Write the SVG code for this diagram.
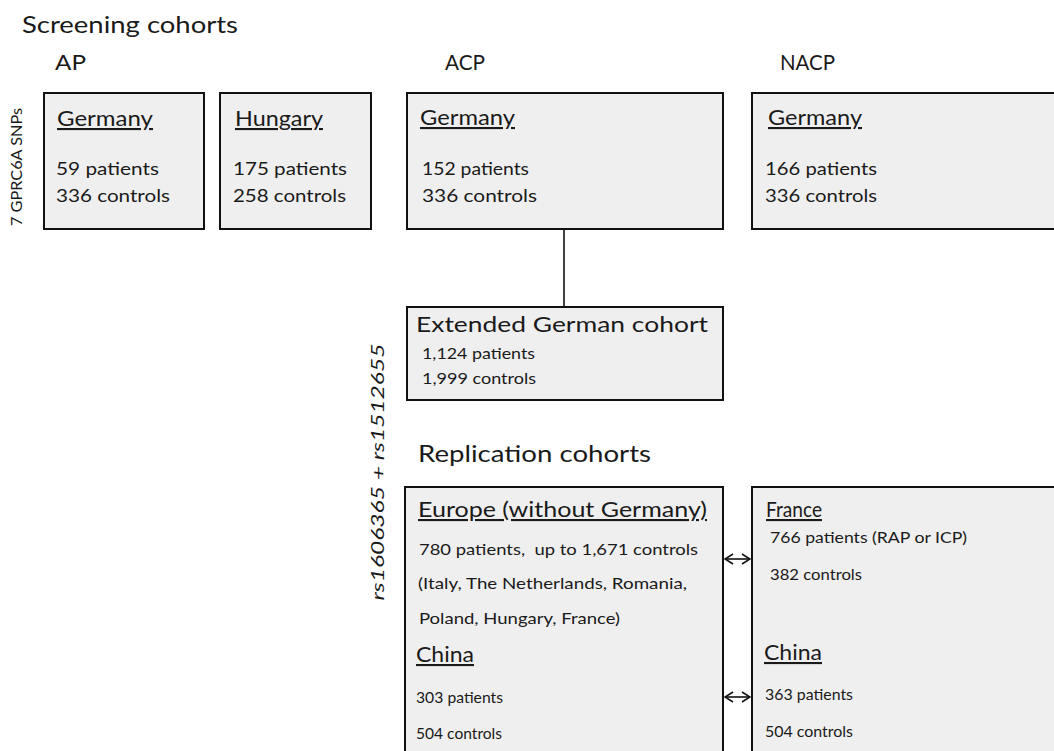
<svg xmlns="http://www.w3.org/2000/svg" width="1054" height="751" viewBox="0 0 1054 751">
<defs>
<style>
text{font-family:Lato,"Liberation Sans",sans-serif;fill:#1a1a1a}
.h1{font-size:23px}
.h2{font-size:22px}
.t{font-size:21px;text-decoration:underline}
.b{font-size:17px}
.s{font-size:16px}
.box{fill:#efefef;stroke:#111;stroke-width:2}
.conn{stroke:#111;stroke-width:1.6;fill:none}
</style>
<marker id="chev" viewBox="0 0 10 12" refX="9" refY="6" markerWidth="10" markerHeight="12" markerUnits="userSpaceOnUse" orient="auto-start-reverse">
<path d="M1,1 L9,6 L1,11" fill="none" stroke="#111" stroke-width="1.6"/>
</marker>
</defs>
<rect width="1054" height="751" fill="#fff"/>

<text class="h1" x="22" y="33" textLength="216" lengthAdjust="spacingAndGlyphs">Screening cohorts</text>
<text class="h2" x="55" y="70" textLength="31" lengthAdjust="spacingAndGlyphs">AP</text>
<text class="h2" x="445" y="70" textLength="40" lengthAdjust="spacingAndGlyphs">ACP</text>
<text class="h2" x="780" y="70" textLength="55" lengthAdjust="spacingAndGlyphs">NACP</text>
<text class="s" transform="translate(22,167) rotate(-90)" text-anchor="middle" textLength="118" lengthAdjust="spacingAndGlyphs">7 GPRC6A SNPs</text>
<text transform="translate(384,472) rotate(-90)" text-anchor="middle" style="font-size:18px;font-style:italic" textLength="257" lengthAdjust="spacingAndGlyphs">rs1606365 + rs1512655</text>

<g id="ap-germany">
<rect class="box" x="44" y="93" width="160" height="136"/>
<text class="t" x="57" y="126" textLength="96" lengthAdjust="spacingAndGlyphs">Germany</text>
<text class="b" x="56" y="175" textLength="103" lengthAdjust="spacingAndGlyphs">59 patients</text>
<text class="b" x="56" y="202" textLength="114" lengthAdjust="spacingAndGlyphs">336 controls</text>
</g>

<g id="ap-hungary">
<rect class="box" x="220" y="93" width="151" height="136"/>
<text class="t" x="235" y="126" textLength="88" lengthAdjust="spacingAndGlyphs">Hungary</text>
<text class="b" x="233" y="175" textLength="114" lengthAdjust="spacingAndGlyphs">175 patients</text>
<text class="b" x="233" y="202" textLength="113" lengthAdjust="spacingAndGlyphs">258 controls</text>
</g>

<g id="acp-germany">
<rect class="box" x="407" y="93" width="316" height="136"/>
<text class="t" x="420" y="125" textLength="95" lengthAdjust="spacingAndGlyphs">Germany</text>
<text class="b" x="422" y="175" textLength="107" lengthAdjust="spacingAndGlyphs">152 patients</text>
<text class="b" x="422" y="202" textLength="115" lengthAdjust="spacingAndGlyphs">336 controls</text>
</g>

<g id="nacp-germany">
<rect class="box" x="752" y="93" width="320" height="136"/>
<text class="t" x="768" y="125" textLength="94" lengthAdjust="spacingAndGlyphs">Germany</text>
<text class="b" x="765" y="175" textLength="112" lengthAdjust="spacingAndGlyphs">166 patients</text>
<text class="b" x="765" y="202" textLength="112" lengthAdjust="spacingAndGlyphs">336 controls</text>
</g>

<g id="extended-german">
<rect class="box" x="407" y="307" width="316" height="93"/>
<text class="h2" x="416" y="332" textLength="292" lengthAdjust="spacingAndGlyphs">Extended German cohort</text>
<text class="s" x="422" y="359" textLength="113" lengthAdjust="spacingAndGlyphs">1,124 patients</text>
<text class="s" x="422" y="384" textLength="114" lengthAdjust="spacingAndGlyphs">1,999 controls</text>
</g>

<text class="h1" x="418" y="462" textLength="233" lengthAdjust="spacingAndGlyphs">Replication cohorts</text>

<g id="europe-china">
<rect class="box" x="405" y="487" width="318" height="280"/>
<text class="t" x="418" y="517" textLength="289" lengthAdjust="spacingAndGlyphs">Europe (without Germany)</text>
<text class="s" x="419" y="555" textLength="279" lengthAdjust="spacingAndGlyphs" xml:space="preserve">780 patients,  up to 1,671 controls</text>
<text class="s" x="418" y="589" textLength="269" lengthAdjust="spacingAndGlyphs">(Italy, The Netherlands, Romania,</text>
<text class="s" x="419" y="624" textLength="201" lengthAdjust="spacingAndGlyphs">Poland, Hungary, France)</text>
<text class="t" x="416" y="662" textLength="58" lengthAdjust="spacingAndGlyphs">China</text>
<text class="s" x="416" y="703" textLength="87" lengthAdjust="spacingAndGlyphs">303 patients</text>
<text class="s" x="416" y="739" textLength="86" lengthAdjust="spacingAndGlyphs">504 controls</text>
</g>

<g id="france-china">
<rect class="box" x="752" y="487" width="320" height="280"/>
<text class="t" x="766" y="517" textLength="56" lengthAdjust="spacingAndGlyphs">France</text>
<text class="s" x="770" y="543" textLength="197" lengthAdjust="spacingAndGlyphs">766 patients (RAP or ICP)</text>
<text class="s" x="770" y="580" textLength="92" lengthAdjust="spacingAndGlyphs">382 controls</text>
<text class="t" x="764" y="660" textLength="58" lengthAdjust="spacingAndGlyphs">China</text>
<text class="s" x="765" y="700" textLength="88" lengthAdjust="spacingAndGlyphs">363 patients</text>
<text class="s" x="765" y="737" textLength="88" lengthAdjust="spacingAndGlyphs">504 controls</text>
</g>

<g id="connectors">
<line class="conn" x1="564" y1="230" x2="564" y2="306"/>
<line class="conn" x1="725" y1="559" x2="750" y2="559" marker-start="url(#chev)" marker-end="url(#chev)"/>
<line class="conn" x1="725" y1="697" x2="750" y2="697" marker-start="url(#chev)" marker-end="url(#chev)"/>
</g>
</svg>
